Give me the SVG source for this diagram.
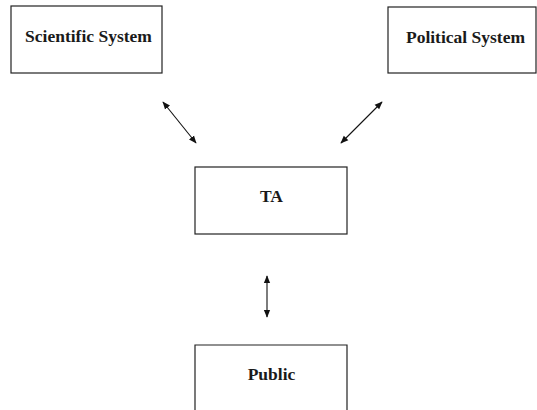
<svg xmlns="http://www.w3.org/2000/svg" width="537" height="410" viewBox="0 0 537 410">
<style>
.box{fill:#fff;stroke:#222;stroke-width:1.2}
.lbl{font-family:"Liberation Serif","Times New Roman",serif;font-weight:bold;font-size:17.5px;fill:#1a1a1a;text-anchor:middle}
.con{stroke:#111;stroke-width:1.1;fill:none;marker-start:url(#ah);marker-end:url(#ah)}
</style>
<defs>
<marker id="ah" viewBox="0 0 10 10" refX="9" refY="5" markerWidth="8" markerHeight="8" markerUnits="userSpaceOnUse" orient="auto-start-reverse">
<path d="M0,1 L10,5 L0,9 z" fill="#111"/>
</marker>
</defs>
<rect width="537" height="410" fill="#fff"/>
<g id="connectors">
<line class="con" x1="163" y1="102" x2="196" y2="143"/>
<line class="con" x1="382" y1="102" x2="341" y2="143"/>
<line class="con" x1="267" y1="276" x2="267" y2="317"/>
</g>
<g id="scientific">
<rect class="box" x="11" y="6" width="151" height="67"/>
<text class="lbl" x="88.5" y="42">Scientific System</text>
</g>
<g id="political">
<rect class="box" x="388" y="7" width="148" height="66"/>
<text class="lbl" x="465.5" y="43">Political System</text>
</g>
<g id="ta">
<rect class="box" x="195" y="167" width="152" height="67"/>
<text class="lbl" x="271.5" y="202">TA</text>
</g>
<g id="public">
<path class="box" d="M195,411 V345 H347 V411"/>
<text class="lbl" x="271.5" y="380">Public</text>
</g>
</svg>
